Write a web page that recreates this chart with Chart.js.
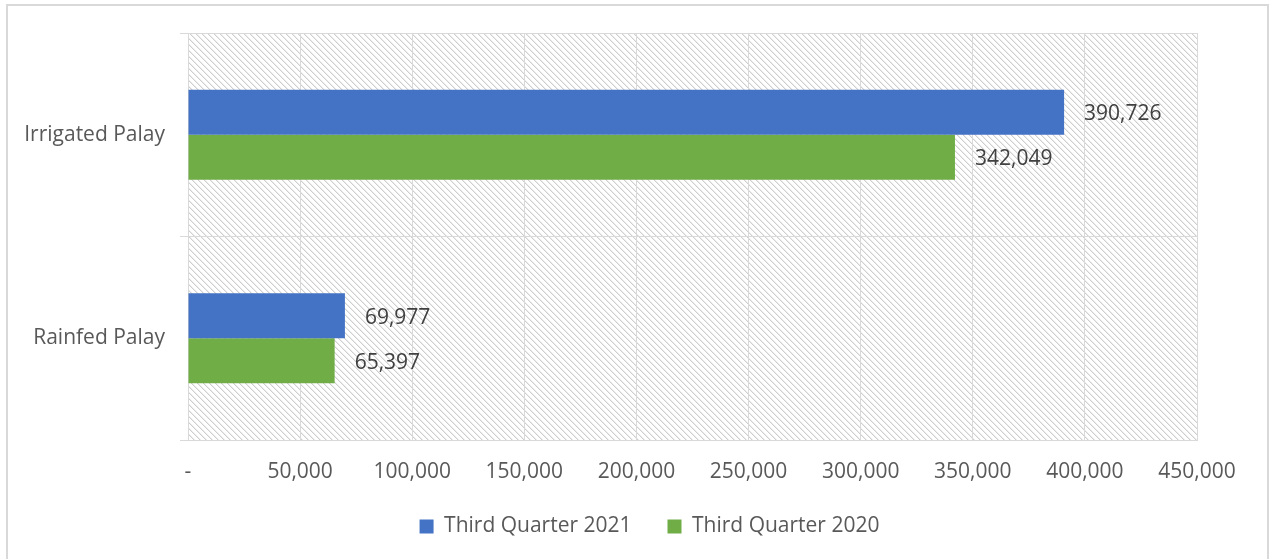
<!DOCTYPE html>
<html>
<head>
<meta charset="utf-8">
<script src="https://cdn.jsdelivr.net/npm/chart.js@4/dist/chart.umd.min.js"></script>
<style>
  html, body { margin: 0; padding: 0; background: #fff; }
  #wrap { position: relative; width: 1270px; height: 559px; overflow: hidden; }
  #frame { position: absolute; left: 6px; top: 4px; width: 1259px; height: 600px; border: 2px solid #d9d9d9; pointer-events: none; }
  canvas { position: absolute; left: 0; top: 0; }
</style>
</head>
<body>
<div id="wrap">
  <canvas id="chart" width="1270" height="559"></canvas>
  <div id="frame"></div>
</div>
<script>
// categories and series
const categories = ["Irrigated Palay", "Rainfed Palay"];
const q3_2021 = [390726, 69977];
const q3_2020 = [342049, 65397];
const seriesNames = ["Third Quarter 2021", "Third Quarter 2020"];
const xTicks = [0, 50000, 100000, 150000, 200000, 250000, 300000, 350000, 400000, 450000];

const FONT = "'Open Sans', Lato, sans-serif";
const FSIZE = 21;

// diagonal hatch tile for the plot background
function makeHatch() {
  const c = document.createElement("canvas");
  c.width = 6;
  c.height = 6;
  const g = c.getContext("2d");
  g.fillStyle = "#ffffff";
  g.fillRect(0, 0, 6, 6);
  for (let i = 0; i < 6; i++) {
    g.fillStyle = "#cfcfcf";
    g.fillRect(i, i, 1, 1);
    g.fillStyle = "#ebebeb";
    g.fillRect((i + 1) % 6, i, 1, 1);
  }
  return c;
}

const hatchBg = {
  id: "hatchBg",
  beforeDraw(chart) {
    const { ctx, chartArea: a } = chart;
    ctx.save();
    ctx.fillStyle = ctx.createPattern(makeHatch(), "repeat");
    ctx.fillRect(a.left, a.top, a.right - a.left, a.bottom - a.top);
    ctx.restore();
  }
};

// legend is centred on the whole page, not on the plot width
const legendShift = {
  id: "legendShift",
  afterLayout(chart) {
    const lg = chart.legend;
    lg.left += 51;
    lg.right += 51;
    lg.top -= 8;
    lg.bottom -= 8;
  }
};

// value labels to the right of each bar
const valueLabels = {
  id: "valueLabels",
  afterDatasetsDraw(chart) {
    const ctx = chart.ctx;
    ctx.save();
    ctx.font = FSIZE + "px " + FONT;
    ctx.fillStyle = "#404040";
    ctx.textBaseline = "middle";
    ctx.textAlign = "left";
    chart.data.datasets.forEach((ds, i) => {
      chart.getDatasetMeta(i).data.forEach((bar, j) => {
        ctx.fillText(ds.data[j].toLocaleString("en-US"), bar.x + 20, bar.y + 2);
      });
    });
    ctx.restore();
  }
};

new Chart(document.getElementById("chart"), {
  type: "bar",
  data: {
    labels: categories,
    datasets: [
      { label: seriesNames[0], data: q3_2021, backgroundColor: "#4472C4" },
      { label: seriesNames[1], data: q3_2020, backgroundColor: "#70AD47" }
    ]
  },
  options: {
    indexAxis: "y",
    responsive: false,
    animation: false,
    devicePixelRatio: 1,
    categoryPercentage: 0.442,
    barPercentage: 1,
    layout: { padding: { top: 33, right: 73, left: 0, bottom: 4 } },
    scales: {
      x: {
        min: 0,
        max: 450000,
        afterBuildTicks(scale) {
          scale.ticks = xTicks.map(v => ({ value: v }));
        },
        afterFit(scale) {
          scale.height = 48;
        },
        grid: { color: "#d9d9d9", lineWidth: 1, drawTicks: false },
        border: { color: "#d9d9d9", width: 1 },
        ticks: {
          padding: 19,
          color: "#595959",
          font: { family: FONT, size: FSIZE },
          maxRotation: 0,
          callback: v => (v === 0 ? "-" : v.toLocaleString("en-US"))
        }
      },
      y: {
        afterFit(scale) {
          scale.width = 188;
        },
        grid: { color: "#d9d9d9", lineWidth: 1, offset: true, drawTicks: true, tickLength: 8 },
        border: { color: "#d9d9d9", width: 1 },
        ticks: {
          padding: 15,
          color: "#595959",
          font: { family: FONT, size: FSIZE }
        }
      }
    },
    plugins: {
      legend: {
        position: "bottom",
        labels: {
          boxWidth: 14,
          boxHeight: 14,
          padding: 36,
          color: "#595959",
          font: { family: FONT, size: FSIZE }
        }
      },
      tooltip: { enabled: false }
    }
  },
  plugins: [hatchBg, legendShift, valueLabels]
});
</script>
</body>
</html>
